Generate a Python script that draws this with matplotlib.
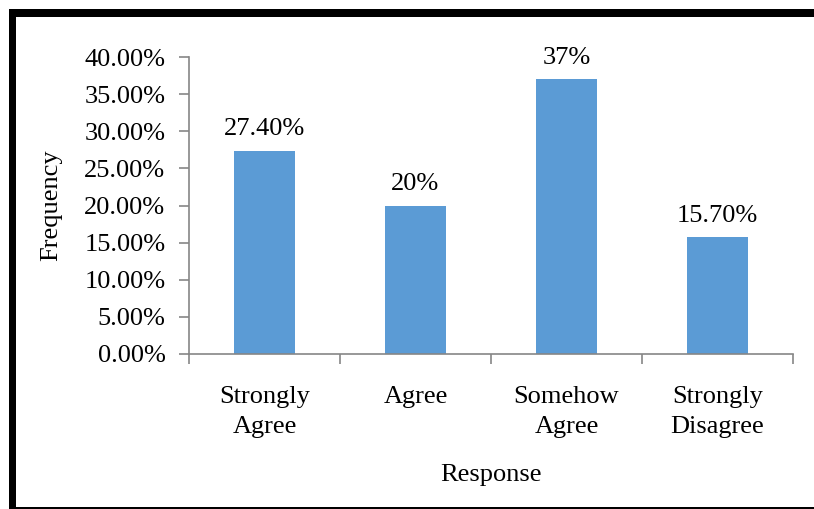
import matplotlib
matplotlib.use("Agg")
import matplotlib.pyplot as plt
from matplotlib.patches import Rectangle
from matplotlib.ticker import FuncFormatter, MultipleLocator

categories = ["Strongly\nAgree", "Agree", "Somehow\nAgree", "Strongly\nDisagree"]
values = [27.4, 20, 37, 15.7]
value_labels = ["27.40%", "20%", "37%", "15.70%"]

plt.rcParams['font.family'] = ['Liberation Serif', 'DejaVu Serif']

W, H = 814, 509
fig = plt.figure(figsize=(W / 100, H / 100), dpi=100)
ax = fig.add_axes([189 / W, 1 - 354 / H, (793 - 189) / W, (354 - 57) / H])

x = range(len(categories))
ax.bar(x, values, width=0.4, color="#5B9BD5")
for xi, v, lab in zip(x, values, value_labels):
    ax.text(xi, v + 1.4, lab, ha="center", va="bottom", fontsize=19)

ax.set_xlim(-0.5, len(categories) - 0.5)
ax.set_ylim(0, 40)
ax.yaxis.set_major_locator(MultipleLocator(5))
ax.yaxis.set_major_formatter(FuncFormatter(lambda v, p: f"{v:.2f}%"))
ax.set_xticks(list(x))
ax.set_xticklabels(categories, fontsize=19, linespacing=1.45)
ax.set_xticks([i - 0.5 for i in range(len(categories) + 1)], minor=True)
ax.tick_params(axis="x", which="major", length=0, pad=23)
ax.tick_params(axis="x", which="minor", length=7, color="#868686", width=1.2)
ax.tick_params(axis="y", labelsize=19, length=7, color="#868686", width=1.2, pad=10)

for s in ["top", "right"]:
    ax.spines[s].set_visible(False)
for s in ["left", "bottom"]:
    ax.spines[s].set_color("#868686")
    ax.spines[s].set_linewidth(1.2)

ax.set_ylabel("Frequency", fontsize=19, labelpad=16)
ax.set_xlabel("Response", fontsize=19, labelpad=19)

# black frame around the chart
fig.patches.append(Rectangle((9 / W, 0), 7 / W, 1 - 9 / H, transform=fig.transFigure,
                             facecolor="black", edgecolor="none"))
fig.patches.append(Rectangle((9 / W, 1 - 17 / H), 1 - 9 / W, 8 / H, transform=fig.transFigure,
                             facecolor="black", edgecolor="none"))
fig.patches.append(Rectangle((9 / W, 0), 1 - 9 / W, 2 / H, transform=fig.transFigure,
                             facecolor="black", edgecolor="none"))

fig.savefig("out.png", dpi=100)
